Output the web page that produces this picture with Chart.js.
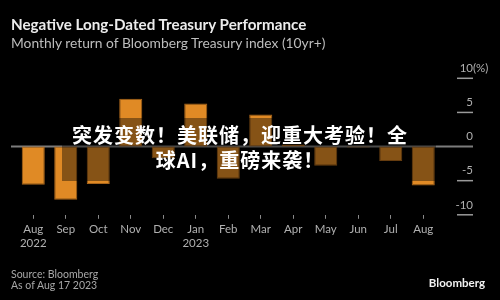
<!DOCTYPE html>
<html>
<head>
<meta charset="utf-8">
<script src="https://cdn.jsdelivr.net/npm/chart.js@4"></script>
<style>
  body { margin: 0; background: #000; }
  #wrap { position: relative; width: 500px; height: 300px; background: #000; overflow: hidden; font-family: Lato, "Noto Sans", sans-serif; }
  #chart { position: absolute; left: 0; top: 0; }
  .title { position: absolute; left: 11px; top: 15px; color: #ececec; font-weight: bold; font-size: 15.2px; white-space: nowrap; }
  .subtitle { position: absolute; left: 11px; top: 34px; color: #bdbdbd; font-size: 13.8px; white-space: nowrap; }
  .source { position: absolute; left: 11px; top: 269px; color: #a8a8a8; font-size: 10.5px; line-height: 10.5px; }
  .logo { position: absolute; right: 15px; top: 276px; color: #f2f2f2; font-weight: bold; font-size: 11.5px; }
  .shade { position: absolute; left: 62px; top: 118px; width: 374px; height: 63px; background: rgba(0,0,0,0.4); }
  .headline { position: absolute; left: 40px; width: 400px; top: 122px; text-align: center; color: #fff; font-family: "Noto Sans CJK SC", sans-serif; font-weight: bold; font-size: 20px; line-height: 25px; letter-spacing: 1px; }
</style>
</head>
<body>
<div id="wrap">
  <canvas id="chart" width="500" height="300"></canvas>
  <div class="title">Negative Long-Dated Treasury Performance</div>
  <div class="subtitle">Monthly return of Bloomberg Treasury index (10yr+)</div>
  <div class="source">Source: Bloomberg<br>As of Aug 17 2023</div>
  <div class="logo">Bloomberg</div>
  <div class="shade"></div>
  <div class="headline">突发变数！美联储，迎重大考验！全<br>球AI，重磅来袭！</div>
</div>
<script>
const months = ['Aug', 'Sep', 'Oct', 'Nov', 'Dec', 'Jan', 'Feb', 'Mar', 'Apr', 'May', 'Jun', 'Jul', 'Aug'];
const years = ['2022', '', '', '', '', '2023', '', '', '', '', '', '', ''];
const returns = [-5.6, -7.8, -5.5, 7.0, -1.7, 6.3, -4.7, 4.7, 0.3, -2.8, -0.15, -2.1, -5.7];
const yTicks = [10, 5, 0, -5, -10];

// zero line, y tick marks and labels on the right
const yAxisPlugin = {
    id: 'yAxisRight',
    beforeDatasetsDraw(chart) {
        const ctx = chart.ctx;
        const y = chart.scales.y;
        const y0 = y.getPixelForValue(0);
        ctx.save();
        ctx.strokeStyle = '#7c7c7c';
        ctx.lineWidth = 2;
        ctx.beginPath();
        ctx.moveTo(11, y0);
        ctx.lineTo(473, y0);
        ctx.stroke();
        ctx.restore();
    },
    afterDraw(chart) {
        const ctx = chart.ctx;
        const y = chart.scales.y;
        ctx.save();
        ctx.font = '11.5px Lato, "Noto Sans", sans-serif';
        ctx.textBaseline = 'middle';
        yTicks.forEach(v => {
            const py = y.getPixelForValue(v);
            if (v !== 0) {
                ctx.strokeStyle = '#9a9a9a';
                ctx.lineWidth = 1.5;
                ctx.beginPath();
                ctx.moveTo(457, py);
                ctx.lineTo(473, py);
                ctx.stroke();
            }
            ctx.fillStyle = '#b0b0b0';
            ctx.textAlign = 'right';
            ctx.fillText(String(v), 473, py - 10);
            if (v === yTicks[0]) {
                ctx.textAlign = 'left';
                ctx.fillText('(%)', 473, py - 10);
            }
        });
        ctx.restore();
    }
};

new Chart(document.getElementById('chart'), {
    type: 'bar',
    data: {
        labels: months,
        datasets: [{
            data: returns,
            backgroundColor: '#e08a25',
            borderColor: '#a9651a',
            borderWidth: 1,
            borderSkipped: false,
            barPercentage: 0.71,
            categoryPercentage: 1
        }]
    },
    options: {
        responsive: false,
        animation: false,
        layout: { padding: { left: 17, right: 60.5, top: 78.3, bottom: 45.6 } },
        plugins: { legend: { display: false }, tooltip: { enabled: false } },
        scales: {
            x: {
                grid: { display: true, drawOnChartArea: false, offset: false, tickLength: 4, color: '#8a8a8a', lineWidth: 1 },
                border: { display: false },
                ticks: {
                    color: '#b0b0b0',
                    font: { family: 'Lato, "Noto Sans", sans-serif', size: 11.5 },
                    padding: 4,
                    maxRotation: 0,
                    autoSkip: false,
                    callback: (val, i) => years[i] ? [months[i], years[i]] : months[i]
                }
            },
            y: { display: false, min: -10, max: 10 }
        }
    },
    plugins: [yAxisPlugin]
});
</script>
</body>
</html>
